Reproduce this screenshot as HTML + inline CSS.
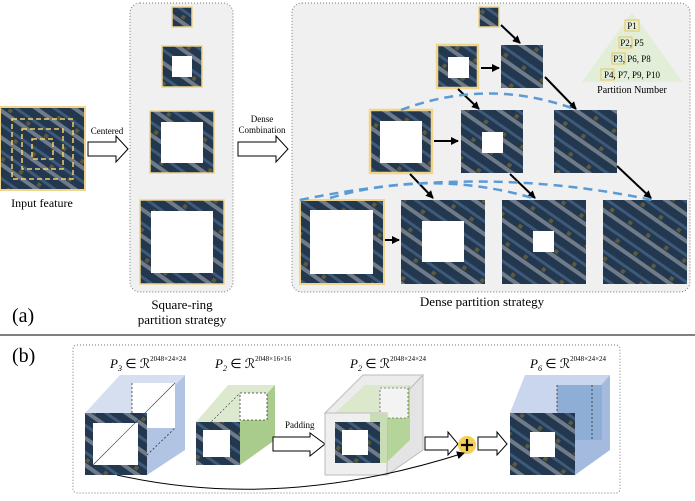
<!DOCTYPE html>
<html><head><meta charset="utf-8"><style>
html,body{margin:0;padding:0;background:#fff;}
svg{display:block;font-family:"Liberation Serif",serif;}
</style></head><body>
<svg width="695" height="501" viewBox="0 0 695 501" xmlns="http://www.w3.org/2000/svg">
<defs>
<pattern id="ph" patternUnits="userSpaceOnUse" width="22" height="22" patternTransform="rotate(35)">
<rect width="22" height="22" fill="#23374f"/>
<rect x="0" y="0" width="22" height="4" fill="#6f7b88"/>
<rect x="0" y="12" width="22" height="3" fill="#3d5a7a"/>
<rect x="4" y="17" width="4" height="4" fill="#5b5a3e"/>
</pattern>
<marker id="ah" markerWidth="8" markerHeight="8" refX="7" refY="4" orient="auto" markerUnits="userSpaceOnUse"><path d="M0,0 L8,4 L0,8 z" fill="#000"/></marker>
</defs>

<rect x="130" y="3" width="103" height="289" rx="10" fill="#f0f0f0" stroke="#777" stroke-dasharray="1,2"/>
<rect x="292" y="3" width="398" height="289" rx="10" fill="#f0f0f0" stroke="#777" stroke-dasharray="1,2"/>

<rect x="0" y="107" width="85" height="83" fill="url(#ph)" stroke="#f0d48a" stroke-width="2"/>
<g fill="none" stroke="#f2cf6a" stroke-width="1.5" stroke-dasharray="5,3">
<rect x="12" y="119" width="61" height="60"/><rect x="22" y="129" width="41" height="40"/><rect x="32" y="139" width="21" height="20"/></g>
<text x="42" y="207" font-size="12" text-anchor="middle">Input feature</text>

<path d="M88,142 H116 V136 L128,149 L116,162 V156 H88 Z" fill="#fff" stroke="#000"/>
<text x="107" y="134" font-size="9" text-anchor="middle">Centered</text>
<path d="M238,142 H276 V136 L288,149 L276,162 V156 H238 Z" fill="#fff" stroke="#000"/>
<text x="262" y="122" font-size="9" text-anchor="middle">Dense</text>
<text x="262" y="133" font-size="9" text-anchor="middle">Combination</text>

<g stroke="#f0d48a" stroke-width="1.5">
<rect x="172" y="7" width="20" height="20" fill="url(#ph)"/>
<rect x="162" y="46" width="40" height="41" fill="url(#ph)"/>
<rect x="150" y="111" width="64" height="62" fill="url(#ph)"/>
<rect x="140" y="200" width="84" height="84" fill="url(#ph)"/></g>
<g fill="#fff"><rect x="172" y="56" width="20" height="21"/><rect x="161" y="122" width="42" height="41"/><rect x="151" y="211" width="62" height="62"/></g>
<text x="182" y="309" font-size="13" text-anchor="middle">Square-ring</text>
<text x="182" y="324" font-size="13" text-anchor="middle">partition strategy</text>

<rect x="479" y="7" width="20" height="20" fill="url(#ph)" stroke="#f0d48a" stroke-width="1.5"/>
<rect x="437" y="45" width="41" height="43" fill="url(#ph)" stroke="#f0d48a" stroke-width="2.5"/>
<rect x="448" y="57" width="21" height="21" fill="#fff"/>
<rect x="501" y="45" width="42" height="43" fill="url(#ph)"/>
<rect x="370" y="110" width="62" height="63" fill="url(#ph)" stroke="#f0d48a" stroke-width="2.5"/>
<rect x="380" y="121" width="42" height="42" fill="#fff"/>
<rect x="461" y="110" width="62" height="63" fill="url(#ph)"/>
<rect x="482" y="132" width="21" height="21" fill="#fff"/>
<rect x="554" y="110" width="63" height="63" fill="url(#ph)"/>
<rect x="300" y="200" width="84" height="84" fill="url(#ph)" stroke="#f0d48a" stroke-width="2"/>
<rect x="310" y="210" width="63" height="64" fill="#fff"/>
<rect x="401" y="200" width="84" height="84" fill="url(#ph)"/>
<rect x="422" y="221" width="42" height="41" fill="#fff"/>
<rect x="502" y="200" width="84" height="84" fill="url(#ph)"/>
<rect x="533" y="231" width="21" height="21" fill="#fff"/>
<rect x="603" y="200" width="84" height="84" fill="url(#ph)"/>

<g stroke="#000" stroke-width="2" marker-end="url(#ah)">
<line x1="501" y1="25" x2="520" y2="43"/><line x1="481" y1="68" x2="499" y2="68"/>
<line x1="458" y1="89" x2="479" y2="109"/><line x1="545" y1="77" x2="576" y2="109"/>
<line x1="434" y1="141" x2="458" y2="141"/><line x1="410" y1="174" x2="433" y2="198"/>
<line x1="510" y1="174" x2="535" y2="198"/><line x1="617" y1="166" x2="651" y2="198"/>
<line x1="385" y1="240" x2="399" y2="240"/></g>

<g fill="none" stroke="#5b9bd5" stroke-width="2.5" stroke-dasharray="9,6">
<path d="M401,110 Q489,77 577,110"/>
<path d="M300,200 Q476,163 652,200"/>
<path d="M330,198 Q432,168 536,199"/></g>

<polygon points="632,12 582,82 683,82" fill="#e3eed8"/>
<g font-size="9" text-anchor="middle">
<rect x="625" y="20" width="14" height="11" fill="none" stroke="#e8c55a"/>
<text x="632" y="29">P1</text>
<rect x="619" y="37" width="13" height="11" fill="none" stroke="#e8c55a"/>
<text x="632" y="46">P2, P5</text>
<rect x="612" y="53" width="13" height="11" fill="none" stroke="#e8c55a"/>
<text x="632" y="62">P3, P6, P8</text>
<rect x="601" y="69" width="13" height="11" fill="none" stroke="#e8c55a"/>
<text x="632" y="78">P4, P7, P9, P10</text>
<text x="632" y="93" font-size="10">Partition Number</text></g>
<text x="482" y="306" font-size="13" text-anchor="middle">Dense partition strategy</text>

<text x="12" y="322" font-size="20">(a)</text>
<line x1="0" y1="335" x2="695" y2="335" stroke="#000" stroke-width="1"/>
<text x="12" y="362" font-size="20">(b)</text>

<rect x="73" y="345" width="547" height="148" rx="4" fill="none" stroke="#777" stroke-dasharray="1,2"/>
<g font-size="13" font-style="italic">
<text x="110" y="368">P<tspan font-size="8" dy="3">3</tspan><tspan dy="-3" font-style="normal"> ∈ ℛ</tspan><tspan font-size="7" dy="-7" font-style="normal">2048×24×24</tspan></text>
<text x="215" y="368">P<tspan font-size="8" dy="3">2</tspan><tspan dy="-3" font-style="normal"> ∈ ℛ</tspan><tspan font-size="7" dy="-7" font-style="normal">2048×16×16</tspan></text>
<text x="350" y="368">P<tspan font-size="8" dy="3">2</tspan><tspan dy="-3" font-style="normal"> ∈ ℛ</tspan><tspan font-size="7" dy="-7" font-style="normal">2048×24×24</tspan></text>
<text x="530" y="368">P<tspan font-size="8" dy="3">6</tspan><tspan dy="-3" font-style="normal"> ∈ ℛ</tspan><tspan font-size="7" dy="-7" font-style="normal">2048×24×24</tspan></text></g>

<!-- cube1 -->
<polygon points="85,413 120,375 185,375 147,413" fill="#d5dff0"/>
<polygon points="147,413 185,375 185,450 147,475" fill="#b2c4e4"/>
<rect x="132" y="383" width="43" height="45" fill="#fff"/>
<line x1="132" y1="383" x2="132" y2="428" stroke="#333" stroke-dasharray="2,2" stroke-width="0.8"/>
<line x1="147" y1="455" x2="175" y2="428" stroke="#333" stroke-dasharray="2,2" stroke-width="0.8"/>
<rect x="85" y="413" width="62" height="62" fill="url(#ph)"/>
<rect x="93" y="423" width="45" height="42" fill="#fff"/>
<line x1="93" y1="465" x2="175" y2="383" stroke="#333" stroke-width="0.6"/>
<!-- cube2 -->
<polygon points="196,422 228,385 275,385 240,422" fill="#dde9cf"/>
<polygon points="240,422 275,385 275,440 240,465" fill="#a9cc8c"/>
<rect x="240" y="393" width="27" height="27" fill="#fff" stroke="#333" stroke-dasharray="2,2" stroke-width="0.8"/>
<line x1="203" y1="430" x2="240" y2="393" stroke="#333" stroke-dasharray="2,2" stroke-width="0.6"/>
<rect x="196" y="422" width="44" height="43" fill="url(#ph)"/>
<rect x="203" y="430" width="27" height="27" fill="#fff"/>
<!-- padding -->
<text x="285" y="428" font-size="9">Padding</text>
<path d="M273,437 H310 V433 L325,444 L310,456 V451 H273 Z" fill="#fff" stroke="#000"/>
<!-- cube3 -->
<polygon points="325,413 363,375 423,375 387,413" fill="#ececec" stroke="#bbb"/>
<polygon points="387,413 423,375 423,450 387,475" fill="#e4e4e4" stroke="#bbb"/>
<polygon points="335,413 365,385 410,385 387,413" fill="#dce8cc"/>
<polygon points="387,413 410,385 410,440 387,462" fill="#b5d49a"/>
<rect x="380" y="388" width="28" height="30" fill="#f3f3f3" stroke="#333" stroke-dasharray="2,2" stroke-width="0.6"/>
<rect x="325" y="413" width="62" height="62" fill="#efefef" stroke="#bbb"/>
<rect x="370" y="413" width="17" height="50" fill="#c9ddb5"/>
<rect x="335" y="422" width="45" height="41" fill="url(#ph)"/>
<rect x="342" y="430" width="26" height="25" fill="#fff"/>
<!-- plus -->
<path d="M425,437 H448 V432 L458,444 L448,455 V450 H425 Z" fill="#fff" stroke="#000"/>
<circle cx="467" cy="445" r="9" fill="#f5cf55"/>
<path d="M467,439 V451 M461,445 H473" stroke="#000" stroke-width="2.2"/>
<path d="M478,437 H497 V432 L507,444 L497,455 V450 H478 Z" fill="#fff" stroke="#000"/>
<!-- cube4 -->
<polygon points="510,413 525,375 610,375 575,413" fill="#c9d6ee"/>
<polygon points="575,413 610,375 610,450 575,475" fill="#a4bbdf"/>
<rect x="557" y="385" width="45" height="55" fill="#8faed6"/>
<line x1="557" y1="385" x2="557" y2="440" stroke="#333" stroke-dasharray="2,2" stroke-width="0.8"/>
<line x1="592" y1="385" x2="592" y2="440" stroke="#333" stroke-dasharray="2,2" stroke-width="0.8"/>
<rect x="510" y="413" width="65" height="62" fill="url(#ph)"/>
<rect x="530" y="432" width="25" height="25" fill="#fff"/>
<!-- curve -->
<path d="M117,475 Q280,512 464,453" fill="none" stroke="#000" stroke-width="1" marker-end="url(#ah)"/>
</svg>
</body></html>
